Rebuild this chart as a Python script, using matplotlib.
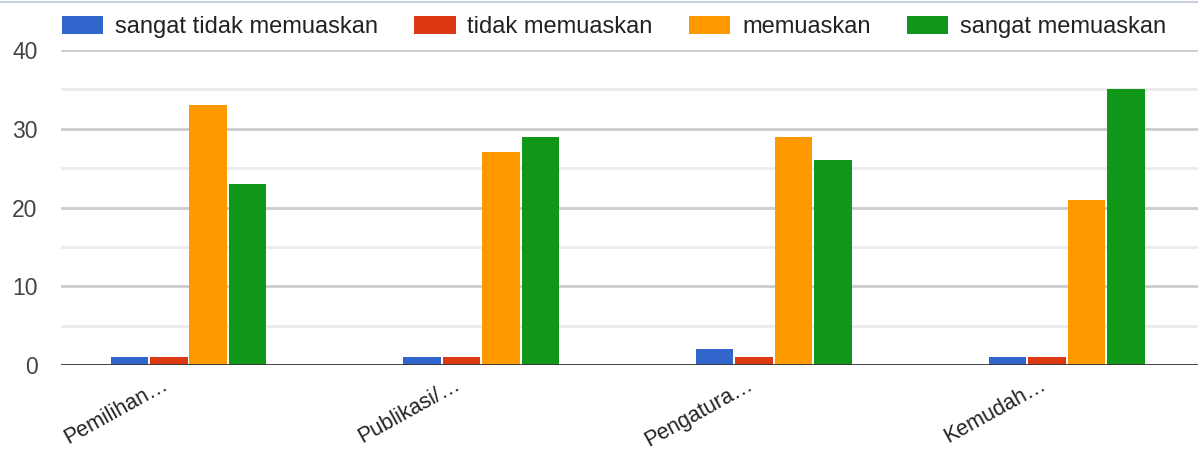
import matplotlib.pyplot as plt
import matplotlib.transforms as mtransforms
import numpy as np

# survey answers per aspect
categories = ["Pemilihan…", "Publikasi/…", "Pengatura…", "Kemudah…"]
series_names = ["sangat tidak memuaskan", "tidak memuaskan", "memuaskan", "sangat memuaskan"]
sangat_tidak = [1, 1, 2, 1]
tidak = [1, 1, 1, 1]
memuaskan = [33, 27, 29, 21]
sangat = [23, 29, 26, 35]
yticks = [0, 10, 20, 30, 40]

colors = ["#3366cc", "#dc3912", "#ff9900", "#109618"]
series = [sangat_tidak, tidak, memuaskan, sangat]

plt.rcParams["font.family"] = ["Liberation Sans", "DejaVu Sans"]

W, H = 1198, 454
fig = plt.figure(figsize=(W / 100, H / 100), dpi=100)
ax = fig.add_axes([61 / W, (H - 365) / H, (W - 61) / W, 315 / H])

x = np.arange(len(categories))
slot = 0.1349
for i, (vals, name, c) in enumerate(zip(series, series_names, colors)):
    ax.bar(x + (i - 1.5) * slot, vals, width=slot * 0.95, color=c, label=name,
           zorder=3, linewidth=0)

ax.set_xlim(-0.4356, 3.449)
ax.set_ylim(0, 40)

# gridlines: major every 10, lighter ones in between
for v in range(5, 40, 10):
    ax.axhline(v, color="#ebebeb", lw=2, zorder=1)
for v in yticks[1:]:
    ax.axhline(v, color="#cccccc", lw=2, zorder=1)
ax.axhline(0, color="#333333", lw=2, zorder=4)

for s in ax.spines.values():
    s.set_visible(False)

ax.set_yticks(yticks)
ax.set_yticklabels([str(v) for v in yticks])
ax.tick_params(axis="y", length=0, pad=17, labelsize=16.5, labelcolor="#444444")

ax.set_xticks(x)
ax.set_xticklabels(categories)
ax.tick_params(axis="x", length=0, pad=13, labelsize=15.5, labelcolor="#222222")
shift = mtransforms.ScaledTranslation(-0.22, 0, fig.dpi_scale_trans)
for lab in ax.get_xticklabels():
    lab.set_rotation(29)
    lab.set_rotation_mode("anchor")
    lab.set_ha("right")
    lab.set_va("center")
    lab.set_transform(lab.get_transform() + shift)

fig.legend(loc="center left", bbox_to_anchor=(62 / W, 1 - 27 / H), ncol=4,
           frameon=False, fontsize=17, handlelength=1.74, handleheight=0.8,
           handletextpad=0.5, columnspacing=1.55, borderpad=0, borderaxespad=0,
           labelcolor="#222222")

# thin border along the top edge
fig.add_artist(plt.Line2D([0, 1], [1 - 2 / H, 1 - 2 / H], color="#c8d0dc", lw=1.5))

fig.savefig("out.png", dpi=100)
